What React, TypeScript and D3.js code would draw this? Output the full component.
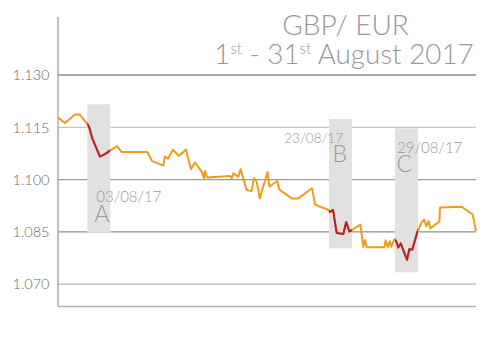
import React from 'react';
import * as d3 from 'd3';

// Day of August 2017 (fractional, intraday) and GBP/EUR rate
const days = [
  1.0, 1.5, 2.22, 2.54, 3.1, 3.25, 3.46, 4.01, 4.37, 4.73, 5.23, 5.57, 7.42, 7.75, 8.56, 8.66, 8.89, 9.25, 9.66, 10.19,
  10.53, 10.83, 11.31, 11.48, 11.55, 11.72, 13.34, 13.47, 13.58, 13.94, 14.11, 14.54, 14.9, 15.05, 15.25, 15.48, 16.04,
  16.17, 16.74, 16.9, 17.77, 18.25, 19.23, 19.45, 19.8, 20.33, 20.52, 20.74, 21.0, 21.48, 21.68, 21.92, 22.7, 22.91,
  23.03, 23.16, 24.43, 24.5, 24.67, 24.81, 24.92, 25.15, 25.3, 25.42, 25.6, 25.78, 26.05, 26.21, 26.42, 26.77, 27.07,
  27.28, 27.43, 27.59, 27.72, 28.37, 28.42, 29.97, 30.76, 31.0,
];
const rates = [
  1.1178, 1.1162, 1.1187, 1.1187, 1.116, 1.1149, 1.1118, 1.1066, 1.1073, 1.1083, 1.1096, 1.1079, 1.1079, 1.1053,
  1.104, 1.1066, 1.106, 1.1086, 1.1068, 1.1086, 1.103, 1.1049, 1.1023, 1.1004, 1.1025, 1.1006, 1.101, 1.1004, 1.1018,
  1.1008, 1.103, 1.097, 1.0967, 1.1004, 1.0996, 1.0946, 1.1022, 1.098, 1.0996, 1.0971, 1.0946, 1.0946, 1.0975, 1.0929,
  1.0922, 1.0915, 1.0907, 1.0913, 1.0847, 1.0844, 1.0878, 1.0851, 1.0871, 1.0807, 1.0827, 1.0806, 1.0806, 1.0826,
  1.0806, 1.0823, 1.0807, 1.0829, 1.0821, 1.0805, 1.0817, 1.0798, 1.077, 1.08, 1.0799, 1.0847, 1.0876, 1.0885, 1.0866,
  1.0881, 1.086, 1.088, 1.092, 1.0922, 1.09, 1.0853,
];

const yTicks = [1.07, 1.085, 1.1, 1.115, 1.13];
const yTickLabels = ['1.070', '1.085', '1.100', '1.115', '1.130'];

// Highlighted periods
const hlLetters = ['A', 'B', 'C'];
const hlDates = ['03/08/17', '23/08/17', '29/08/17'];
const hlStart = [3.1, 20.45, 25.19];
const hlEnd = [4.75, 22.1, 26.84];
const hlTop = [1.1216, 1.1174, 1.1147];
const hlBottom = [1.0848, 1.0803, 1.0734];

// layout of annotation texts relative to each box (px)
const dateLayout = [
  { dx: 9, y: 202, anchor: 'start', size: 15 },
  { dx: 14, y: 142.5, anchor: 'end', size: 13.5 },
  { dx: 2, y: 152.5, anchor: 'start', size: 15 },
];
const letterLayout = [
  { dx: 7, y: 222 },
  { dx: 3.5, y: 161.5 },
  { dx: 1.5, y: 171.5 },
];

const W = 500;
const H = 353;
const FONT = 'Lato, "Open Sans", sans-serif';

export default function App() {
  const x = d3.scaleLinear().domain([1, 31]).range([58, 476]);
  const y = d3.scaleLinear().domain([1.07, 1.13]).range([284.2, 75]);
  const plotTop = 17;
  const plotBottom = 306.5;
  const data = days.map((d, i) => ({ d, v: rates[i] }));
  const line = d3
    .line<{ d: number; v: number }>()
    .x((p) => x(p.d))
    .y((p) => y(p.v))
    .curve(d3.curveLinear);
  const path = line(data) || '';
  const gridColors: Record<string, string> = {
    '1.070': '#b4b4b4',
    '1.085': '#8e8e8e',
    '1.100': '#9c9c9c',
    '1.115': '#c6c6c6',
    '1.130': '#8c8c8c',
  };

  return (
    <svg width={W} height={H} style={{ position: 'absolute', left: 0, top: 0, background: '#fff' }}>
      <defs>
        {hlStart.map((s, i) => (
          <clipPath id={`hl${i}`} key={i}>
            <rect x={x(s)} y={0} width={x(hlEnd[i]) - x(s)} height={H} />
          </clipPath>
        ))}
      </defs>
      {/* gridlines */}
      {yTicks.map((t, i) => (
        <g key={t}>
          <line x1={x(1)} x2={x(31)} y1={y(t)} y2={y(t)} stroke={gridColors[yTickLabels[i]]} strokeWidth={1.3} />
          <text
            x={49.5}
            y={y(t)}
            dy="0.36em"
            textAnchor="end"
            fontFamily={FONT}
            fontWeight={300}
            fontSize={14.5}
            fill="#6a6a6a"
          >
            {yTickLabels[i]}
          </text>
        </g>
      ))}
      {/* axes */}
      <line x1={x(1)} x2={x(1)} y1={plotTop} y2={plotBottom} stroke="#a0a0a0" strokeWidth={1.3} />
      <line x1={x(1)} x2={x(31)} y1={plotBottom} y2={plotBottom} stroke="#b4b4b4" strokeWidth={1.3} />
      {/* highlight boxes */}
      {hlStart.map((s, i) => (
        <rect
          key={i}
          x={x(s)}
          y={y(hlTop[i])}
          width={x(hlEnd[i]) - x(s)}
          height={y(hlBottom[i]) - y(hlTop[i])}
          fill="#e1e1e1"
        />
      ))}
      {/* line */}
      <path d={path} fill="none" stroke="#ef9b1c" strokeWidth={2} strokeLinejoin="round" />
      {hlStart.map((s, i) => (
        <path key={i} d={path} fill="none" stroke="#b81d2c" strokeWidth={2} strokeLinejoin="round" clipPath={`url(#hl${i})`} />
      ))}
      {/* annotations */}
      {hlStart.map((s, i) => (
        <g key={i}>
          <text
            x={x(s) + dateLayout[i].dx}
            y={dateLayout[i].y}
            textAnchor={dateLayout[i].anchor as any}
            fontFamily={FONT}
            fontWeight={300}
            fontSize={dateLayout[i].size}
            fill="#9a9a9a"
          >
            {hlDates[i]}
          </text>
          <text
            x={x(s) + letterLayout[i].dx}
            y={letterLayout[i].y}
            fontFamily={FONT}
            fontWeight={300}
            fontSize={23}
            fill="#9a9a9a"
          >
            {hlLetters[i]}
          </text>
        </g>
      ))}
      {/* title */}
      <text x={345.5} y={35} textAnchor="middle" fontFamily={FONT} fontWeight={300} fontSize={28} fill="#999">
        GBP/ EUR
      </text>
      <text x={344} y={64} textAnchor="middle" fontFamily={FONT} fontWeight={300} fontSize={27.8} fill="#999">
        1
        <tspan fontSize={15} dy={-10}>
          st
        </tspan>
        <tspan dy={10}> - 31</tspan>
        <tspan fontSize={15} dy={-10}>
          st
        </tspan>
        <tspan dy={10}> August 2017</tspan>
      </text>
    </svg>
  );
}
